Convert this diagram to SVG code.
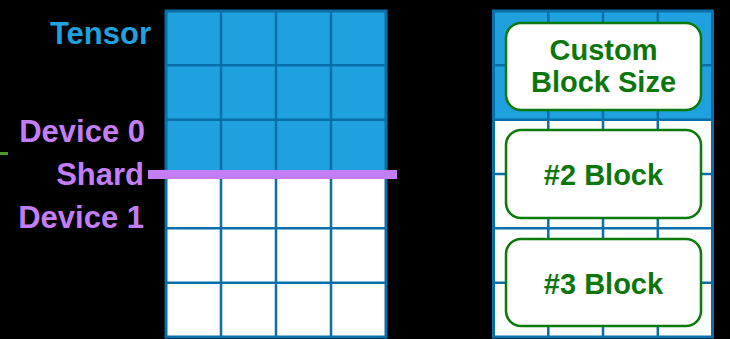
<svg xmlns="http://www.w3.org/2000/svg" width="730" height="339" viewBox="0 0 730 339">
<style>
.lbl{font-family:"Liberation Sans",Arial,sans-serif;font-weight:bold;font-size:31px;text-anchor:end}
.bt{font-family:"Liberation Sans",Arial,sans-serif;font-weight:bold;font-size:29px;text-anchor:middle;fill:#0b760b}
.grid{stroke:#0a6eaa;stroke-width:2.5;fill:none}
.outer{stroke:#0a6eaa;stroke-width:3;fill:none}
.box{fill:#ffffff;stroke:#0a7a0a;stroke-width:2.5}
</style>
<rect x="0" y="0" width="730" height="339" fill="#000000"/>
<g id="labels">
<text class="lbl" x="151" y="44" fill="#1fa1df">Tensor</text>
<text class="lbl" x="145" y="142" fill="#c37ef5">Device 0</text>
<text class="lbl" x="144" y="185" fill="#c37ef5">Shard</text>
<text class="lbl" x="144" y="228" fill="#c37ef5">Device 1</text>
</g>
<line x1="0" y1="153.5" x2="8" y2="153.5" stroke="#4a9a2a" stroke-width="3"/>
<g id="tensor-left">
<rect x="166" y="11" width="220" height="326" fill="#ffffff"/>
<rect x="166" y="11" width="220" height="163" fill="#1fa1df"/>
<path class="grid" d="M221 11V337M276 11V337M331 11V337M166 65.3H386M166 119.7H386M166 174H386M166 228.3H386M166 282.7H386"/>
<rect class="outer" x="166" y="11" width="220" height="326"/>
</g>
<g id="shard-line">
<rect x="148" y="170" width="249" height="9" fill="#c37ef5"/>
</g>
<g id="tensor-right">
<rect x="493.5" y="11" width="219" height="326" fill="#ffffff"/>
<rect x="493.5" y="11" width="219" height="108.7" fill="#1fa1df"/>
<path class="grid" d="M548.3 11V337M603 11V337M657.8 11V337M493.5 65.3H712.5M493.5 119.7H712.5M493.5 174H712.5M493.5 228.3H712.5M493.5 282.7H712.5"/>
<rect class="outer" x="493.5" y="11" width="219" height="326"/>
</g>
<g id="block1">
<rect class="box" x="506" y="23" width="195" height="87" rx="15"/>
<text class="bt" x="603.5" y="60">Custom</text>
<text class="bt" x="603.5" y="92">Block Size</text>
</g>
<g id="block2">
<rect class="box" x="506" y="130" width="195" height="88" rx="15"/>
<text class="bt" x="603.5" y="185">#2 Block</text>
</g>
<g id="block3">
<rect class="box" x="506" y="239" width="195" height="87" rx="15"/>
<text class="bt" x="603.5" y="294">#3 Block</text>
</g>
</svg>
